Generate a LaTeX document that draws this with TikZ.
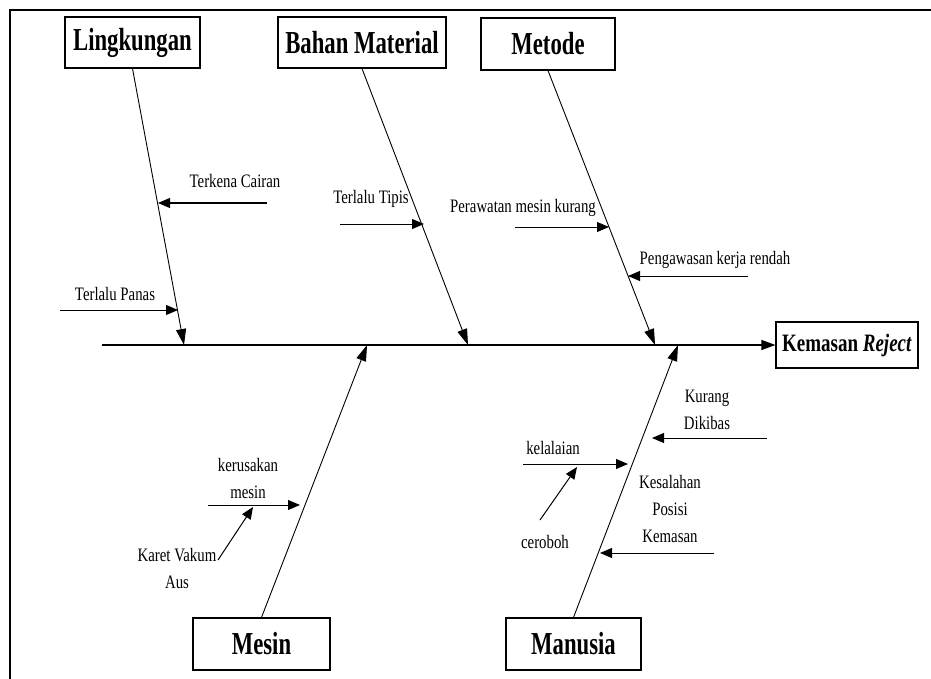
\documentclass[tikz,border=0pt]{standalone}
\usepackage{fontspec}
\setmainfont{Liberation Serif}
\usetikzlibrary{arrows.meta,calc}
\newcommand\lbl[1]{\scalebox{0.78}[1]{#1}}
\newcommand\ttl[1]{\scalebox{0.71}[1]{#1}}
\begin{document}
\begin{tikzpicture}[x=1pt,y=-1pt,
  catbox/.style={draw, line width=1.2pt, inner sep=0pt, font=\fontsize{32}{36}\selectfont\bfseries},
  bone/.style={line width=0.9pt, -{Triangle[length=16pt,width=10pt]}},
  spinestyle/.style={line width=1.2pt, -{Triangle[length=14pt,width=10pt]}},
  subarrow/.style={line width=1pt, -{Triangle[length=12pt,width=10pt]}},
  lab/.style={inner sep=0pt, font=\fontsize{19}{27}\selectfont},
  frame/.style={line width=1.5pt}]
\useasboundingbox (0,0) rectangle (931,679);
% frame
\coordinate (f1) at (10,679);
\coordinate (f2) at (10,10);
\coordinate (f3) at (931,10);
\draw[frame] (f1) -- (f2) -- (f3);
% category boxes
\node[catbox, minimum width=135pt, minimum height=51pt] (ling) at (132.5,42.5) {\ttl{Lingkungan}};
\node[catbox, minimum width=168pt, minimum height=51pt] (bahan) at (362,42.5) {\ttl{Bahan Material}};
\node[catbox, minimum width=134pt, minimum height=52pt] (metode) at (548,44) {\ttl{Metode}};
\node[catbox, minimum width=137pt, minimum height=52pt] (mesin) at (261.5,644) {\ttl{Mesin}};
\node[catbox, minimum width=135pt, minimum height=52pt] (manusia) at (573.5,644) {\ttl{Manusia}};
\node[catbox, minimum width=142pt, minimum height=46pt, font=\fontsize{25}{28}\selectfont\bfseries] (kem) at (847,345) {\scalebox{0.76}[1]{Kemasan \textit{Reject}}};
% spine
\coordinate (sp) at (102,345);
\draw[spinestyle] (sp) -- (kem.west);
% bone tips on spine
\coordinate (tl) at (184,345);
\coordinate (tb) at (468,345);
\coordinate (tm) at (655,345);
\coordinate (ts) at (367,345);
\coordinate (tu) at (678,345);
\draw[bone] (ling.south) -- (tl);
\draw[bone] (bahan.south) -- (tb);
\draw[bone] (metode.south) -- (tm);
\draw[bone] (mesin.north) -- (ts);
\draw[bone] (manusia.north) -- (tu);
% Lingkungan causes
\coordinate (a1s) at (267,203); \coordinate (a1t) at (158,203);
\draw[subarrow] (a1s) -- (a1t);
\node[lab] (n1) at (235,181) {\lbl{Terkena Cairan}};
\coordinate (a2s) at (60,310); \coordinate (a2t) at (178,310);
\draw[subarrow] (a2s) -- (a2t);
\node[lab] (n2) at (115,294) {\lbl{Terlalu Panas}};
% Bahan causes
\coordinate (a3s) at (340,224); \coordinate (a3t) at (424,224);
\draw[subarrow] (a3s) -- (a3t);
\node[lab] (n3) at (371,199) {\lbl{Terlalu Tipis}};
% Metode causes
\coordinate (a4s) at (515,227); \coordinate (a4t) at (609,227);
\draw[subarrow] (a4s) -- (a4t);
\node[lab] (n4) at (523,208) {\lbl{Perawatan mesin kurang}};
\coordinate (a5s) at (748,276); \coordinate (a5t) at (628,276);
\draw[subarrow] (a5s) -- (a5t);
\node[lab] (n5) at (715,260) {\lbl{Pengawasan kerja rendah}};
% Mesin causes
\coordinate (a6s) at (208,505); \coordinate (a6t) at (300,505);
\draw[subarrow] (a6s) -- (a6t);
\node[lab] (n6) at (248,480) {\lbl{\begin{tabular}{@{}c@{}}kerusakan\\mesin\end{tabular}}};
\coordinate (a7s) at (218,560); \coordinate (a7t) at (253,507);
\draw[subarrow] (a7s) -- (a7t);
\node[lab] (n7) at (177,570) {\lbl{\begin{tabular}{@{}c@{}}Karet Vakum\\Aus\end{tabular}}};
% Manusia causes
\coordinate (a8s) at (523,464); \coordinate (a8t) at (628,464);
\draw[subarrow] (a8s) -- (a8t);
\node[lab] (n8) at (553,448) {\lbl{kelalaian}};
\coordinate (a9s) at (540,520); \coordinate (a9t) at (577,467);
\draw[subarrow] (a9s) -- (a9t);
\node[lab] (n9) at (545,542) {\lbl{ceroboh}};
\coordinate (a10s) at (767,438); \coordinate (a10t) at (652,438);
\draw[subarrow] (a10s) -- (a10t);
\node[lab] (n10) at (707,411) {\lbl{\begin{tabular}{@{}c@{}}Kurang\\Dikibas\end{tabular}}};
\coordinate (a11s) at (714,553); \coordinate (a11t) at (600,553);
\draw[subarrow] (a11s) -- (a11t);
\node[lab] (n11) at (670,510) {\lbl{\begin{tabular}{@{}c@{}}Kesalahan\\Posisi\\Kemasan\end{tabular}}};
\end{tikzpicture}
\end{document}
